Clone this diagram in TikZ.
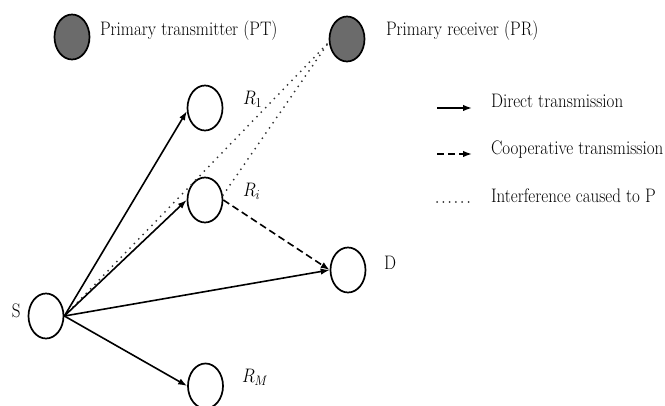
\RequirePackage{fix-cm}
\documentclass[tikz,border=0pt]{standalone}
\usepackage{fontspec}
\usetikzlibrary{shapes.geometric,arrows.meta}
% text is set at 17pt, stretched slightly in height
\newcommand{\lbl}[1]{\scalebox{1}[1.15]{\fontsize{17}{20}\selectfont #1}}
\begin{document}
\begin{tikzpicture}[x=1pt,y=-1pt,
  nodecirc/.style={ellipse, draw, line width=1.7pt, minimum width=35pt, minimum height=45pt, inner sep=0pt},
  primary/.style={nodecirc, fill=black!58},
  txt/.style={anchor=base west, inner sep=0pt, outer sep=0pt},
  direct/.style={line width=1.6pt, -{Latex[length=9pt,width=6.5pt]}},
  coop/.style={line width=1.6pt, dash pattern=on 7pt off 4pt, -{Latex[length=9pt,width=6.5pt]}},
  interf/.style={line width=2pt, line cap=round, dash pattern=on 0pt off 6.3pt, black!80}]
\useasboundingbox (0,0) rectangle (665,406);

% terminals
\node[primary] (PT) at (72,37) {};
\node[primary] (PR) at (347,39) {};
\node[nodecirc] (R1) at (205,108) {};
\node[nodecirc] (Ri) at (205,200) {};
\node[nodecirc] (D)  at (348,270) {};
\node[nodecirc] (S)  at (46,316) {};
\node[nodecirc] (RM) at (205.5,386) {};

% labels
\node[txt] (tPT) at (100,36) {\lbl{Primary transmitter (PT)}};
\node[txt] (tPR) at (386,36) {\lbl{Primary receiver (PR)}};
\node[txt] (tR1) at (243,105) {\lbl{$R_1$}};
\node[txt] (tRi) at (243,197) {\lbl{$R_i$}};
\node[txt] (tD)  at (384,270) {\lbl{D}};
\node[txt] (tS)  at (12,318) {\lbl{S}};
\node[txt] (tRM) at (242,382.5) {\lbl{$R_M$}};

% links
\draw[interf] (S.east) -- (PR.190);
\draw[interf] (Ri.15) -- (PR.190);
\draw[direct] (S.east) -- (R1.190);
\draw[direct] (S.east) -- (Ri.west);
\draw[direct] (S.east) -- (D.west);
\draw[direct] (S.east) -- (RM.west);
\draw[coop] (Ri.east) -- (D.west);

% legend
\coordinate (l1a) at (437,108); \coordinate (l1b) at (472,108);
\coordinate (l2a) at (437,154); \coordinate (l2b) at (472,154);
\coordinate (l3a) at (437,202); \coordinate (l3b) at (472,202);
\draw[direct] (l1a) -- (l1b);
\draw[coop] (l2a) -- (l2b);
\draw[interf] (l3a) -- (l3b);
\node[txt] (tl1) at (491,107.5) {\lbl{Direct transmission}};
\node[txt] (tl2) at (491,155) {\lbl{Cooperative transmission}};
\node[txt] (tl3) at (491,203) {\lbl{Interference caused to P}};
\end{tikzpicture}
\end{document}
